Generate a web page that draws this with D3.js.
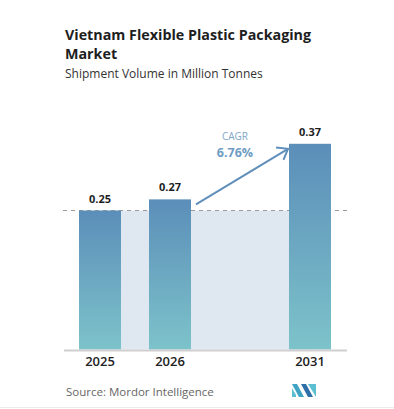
<!DOCTYPE html>
<html lang="en">
<head>
    <meta charset="UTF-8">
    <title>Vietnam Flexible Plastic Packaging Market</title>
    <script src="https://cdn.jsdelivr.net/npm/d3@7"></script>
    <style>
        body { margin: 0; background: #fff; }
        text { font-family: "Open Sans", "DejaVu Sans", sans-serif; }
    </style>
</head>
<body>
<svg id="chart" width="394" height="409"></svg>
<script>
    // data
    const years = ["2025", "2026", "2031"];
    const values = [0.25, 0.27, 0.37];
    const slots = ["2025", "2026", "gap", "2031"];   // empty slot keeps the gap before 2031
    const cagrLabel = "CAGR";
    const cagrValue = "6.76%";

    const svg = d3.select("#chart");
    const baseY = 349.5;

    const x = d3.scaleBand().domain(slots).range([65, 345])
        .paddingInner(0.4).paddingOuter(0.2);
    const y = d3.scaleLinear().domain([0, 0.25]).range([baseY, 210.5]);

    // gradient for bars
    const grad = svg.append("defs").append("linearGradient")
        .attr("id", "barGrad").attr("x1", 0).attr("y1", 0).attr("x2", 0).attr("y2", 1);
    grad.append("stop").attr("offset", "0%").attr("stop-color", "#5b8eb9");
    grad.append("stop").attr("offset", "100%").attr("stop-color", "#7dc3ca");

    // titles
    svg.append("text").attr("x", 65).attr("y", 40)
        .attr("font-size", 14.3).attr("font-weight", 700).attr("fill", "#1e1e1e")
        .text("Vietnam Flexible Plastic Packaging");
    svg.append("text").attr("x", 65).attr("y", 59)
        .attr("font-size", 14.3).attr("font-weight", 700).attr("fill", "#1e1e1e")
        .text("Market");
    svg.append("text").attr("x", 65).attr("y", 78)
        .attr("font-size", 12).attr("fill", "#333")
        .text("Shipment Volume in Million Tonnes");

    // light shaded area between first and last bar, up to first value
    const first = years[0], last = years[years.length - 1];
    svg.append("rect")
        .attr("x", x(first) + x.bandwidth() / 2)
        .attr("y", y(values[0]))
        .attr("width", x(last) - x(first))
        .attr("height", baseY - y(values[0]))
        .attr("fill", "#dfe8f1");

    // dashed reference line
    svg.append("line")
        .attr("x1", 63).attr("x2", 347)
        .attr("y1", y(values[0])).attr("y2", y(values[0]))
        .attr("stroke", "#9a9a9a").attr("stroke-width", 1)
        .attr("stroke-dasharray", "4,4");

    // bars
    svg.selectAll(".bar").data(years).enter().append("rect")
        .attr("class", "bar")
        .attr("x", d => x(d))
        .attr("y", (d, i) => y(values[i]))
        .attr("width", x.bandwidth())
        .attr("height", (d, i) => baseY - y(values[i]))
        .attr("fill", "url(#barGrad)");

    // value labels
    svg.selectAll(".val").data(years).enter().append("text")
        .attr("class", "val")
        .attr("x", d => x(d) + x.bandwidth() / 2)
        .attr("y", (d, i) => y(values[i]) - 8)
        .attr("text-anchor", "middle")
        .attr("font-size", 11).attr("font-weight", 700).attr("fill", "#1e1e1e")
        .text((d, i) => values[i].toFixed(2));

    // axis baseline
    svg.append("line")
        .attr("x1", 64).attr("x2", 347).attr("y1", baseY + 1).attr("y2", baseY + 1)
        .attr("stroke", "#cfcfcf").attr("stroke-width", 2);

    // year labels
    svg.selectAll(".yr").data(years).enter().append("text")
        .attr("class", "yr")
        .attr("x", d => x(d) + x.bandwidth() / 2)
        .attr("y", 366)
        .attr("text-anchor", "middle")
        .attr("font-size", 13).attr("font-weight", 600).attr("fill", "#222")
        .text(d => d);

    // CAGR arrow from 2026 bar to 2031 bar
    const ax1 = x(years[1]) + x.bandwidth() + 5, ay1 = y(values[1]) + 5;
    const ax2 = x(last) - 1, ay2 = y(values[2]) + 5;
    svg.append("line")
        .attr("x1", ax1).attr("y1", ay1).attr("x2", ax2).attr("y2", ay2)
        .attr("stroke", "#5f8fba").attr("stroke-width", 2);
    const ang = Math.atan2(ay2 - ay1, ax2 - ax1);
    const hl = 12;
    const head = [ang + 2.5, ang - 2.5].map(a => [ax2 + hl * Math.cos(a), ay2 + hl * Math.sin(a)]);
    svg.append("path")
        .attr("d", d3.line()([head[0], [ax2, ay2], head[1]]))
        .attr("fill", "none").attr("stroke", "#5f8fba").attr("stroke-width", 2)
        .attr("stroke-linejoin", "miter");

    svg.append("text").attr("x", 235).attr("y", 140)
        .attr("text-anchor", "middle").attr("font-size", 10).attr("fill", "#7fa7c8")
        .text(cagrLabel);
    svg.append("text").attr("x", 235).attr("y", 157)
        .attr("text-anchor", "middle").attr("font-size", 12.5).attr("font-weight", 700).attr("fill", "#6e9cc3")
        .text(cagrValue);

    // source
    svg.append("text").attr("x", 66).attr("y", 396)
        .attr("font-size", 11.5).attr("fill", "#666")
        .text("Source:  Mordor Intelligence");

    // logo
    const logo = svg.append("g").attr("transform", "translate(292,384)");
    logo.append("path").attr("d", "M0,0 L5,0 L12,13 L7,13 Z").attr("fill", "#3fa3c4");
    logo.append("path").attr("d", "M0,4 L4,11 L4,13 L0,13 Z").attr("fill", "#5cc0d2");
    logo.append("path").attr("d", "M9,0 L14,0 L21,13 L16,13 Z").attr("fill", "#2f6fa8");
    logo.append("path").attr("d", "M16,0 L24,0 L24,13 Z").attr("fill", "#5cc0d2");

    // bottom border
    svg.append("line").attr("x1", 0).attr("x2", 394).attr("y1", 407.5).attr("y2", 407.5)
        .attr("stroke", "#ececec").attr("stroke-width", 1);
</script>
</body>
</html>
